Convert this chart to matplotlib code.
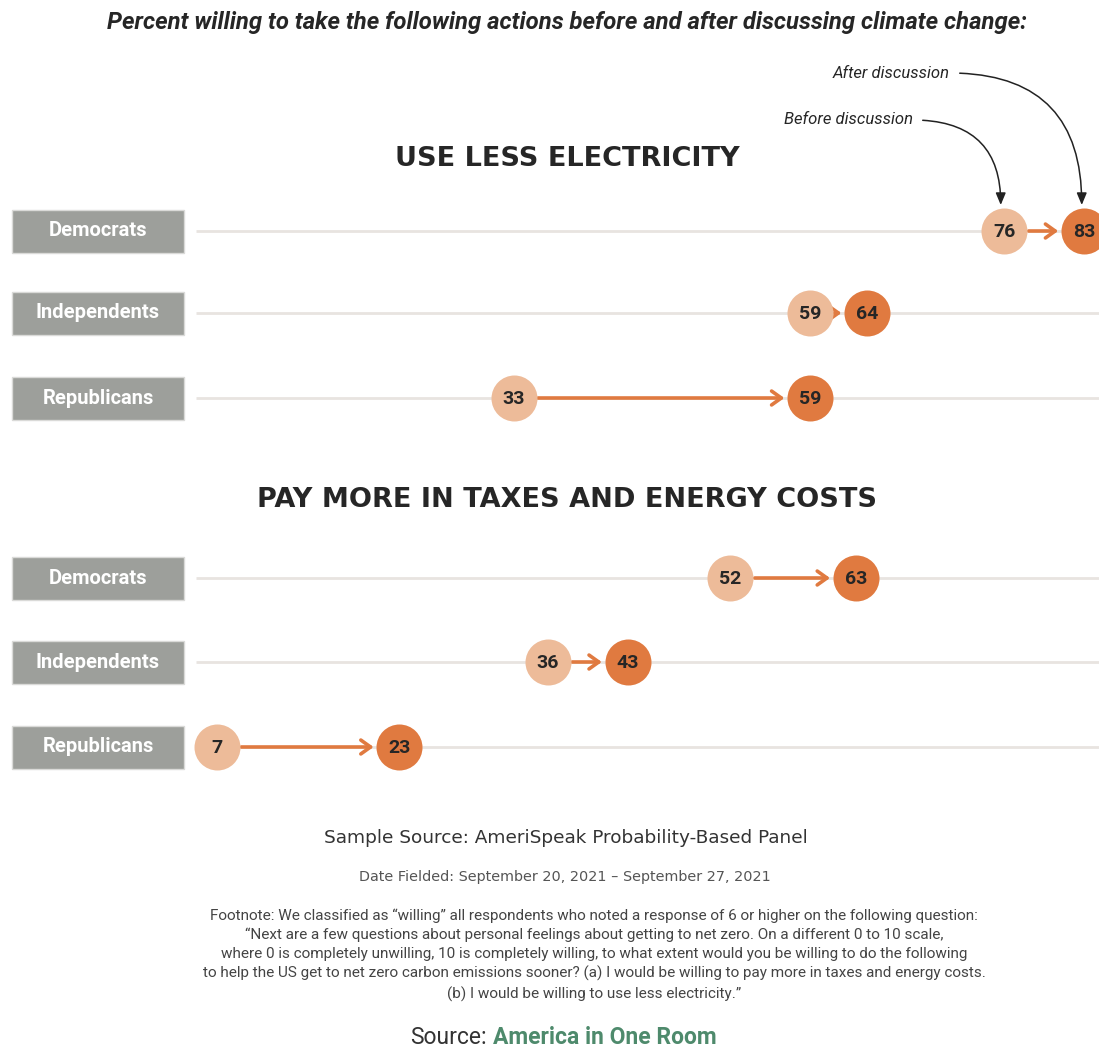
import numpy as np
import matplotlib.pyplot as plt
from matplotlib.patches import Rectangle
from matplotlib.transforms import blended_transform_factory

# datos
grupos = ["Democrats", "Independents", "Republicans"]
secciones = ["USE LESS ELECTRICITY", "PAY MORE IN TAXES AND ENERGY COSTS"]
antes_elec = [76, 59, 33]
despues_elec = [83, 64, 59]
antes_tax = [52, 36, 7]
despues_tax = [63, 43, 23]

titulo = "Percent willing to take the following actions before and after discussing climate change:"
fuente_muestra = "Sample Source: AmeriSpeak Probability-Based Panel"
fecha = "Date Fielded: September 20, 2021 \u2013 September 27, 2021"
nota = ("Footnote: We classified as \u201cwilling\u201d all respondents who noted a response of 6 or higher on the following question:\n"
        "\u201cNext are a few questions about personal feelings about getting to net zero. On a different 0 to 10 scale,\n"
        "where 0 is completely unwilling, 10 is completely willing, to what extent would you be willing to do the following\n"
        "to help the US get to net zero carbon emissions sooner? (a) I would be willing to pay more in taxes and energy costs.\n"
        "(b) I would be willing to use less electricity.\u201d")

c_antes = "#EDBB99"
c_despues = "#E07A40"
c_caja = "#9D9F9B"
c_linea = "#E8E4E0"
c_texto = "#262626"

plt.rcParams['font.family'] = ['Roboto', 'DejaVu Sans']

W, H = 1099, 1051
fig = plt.figure(figsize=(W / 100, H / 100), dpi=100)
ax = fig.add_axes([0, 0, 1, 1])
# escala: 0% en x=137 px, 11.41 px por punto
ax.set_xlim(-137 / 11.41, (W - 137) / 11.41)
ax.set_ylim(H, 0)
ax.axis('off')
trans_box = blended_transform_factory(ax.transAxes, ax.transData)

filas = [[231, 313, 398], [578, 662, 747]]
y_secc = [159, 500]
datos = [(antes_elec, despues_elec), (antes_tax, despues_tax)]

r_pt = 23 * 0.72
for k, (antes, despues) in enumerate(datos):
    ax.text(567 / W, y_secc[k], secciones[k], transform=trans_box, ha='center', va='center',
            fontsize=19.5, fontweight='bold', color=c_texto, family='DejaVu Sans')
    for i, g in enumerate(grupos):
        y = filas[k][i]
        ax.hlines(y, 5.2, 85, color=c_linea, lw=2, zorder=1)
        ax.add_patch(Rectangle((12 / W, y - 21.5), 172 / W, 43, transform=trans_box,
                               facecolor=c_caja, edgecolor='#DADAD8', lw=1, zorder=2))
        ax.text(98 / W, y, g, transform=trans_box, ha='center', va='center',
                fontsize=14.5, fontweight='bold', color='white', zorder=3)
        ax.annotate('', xy=(despues[i], y), xytext=(antes[i], y),
                    arrowprops=dict(arrowstyle='->,head_length=0.7,head_width=0.5', color=c_despues,
                                    lw=2.6, shrinkA=r_pt + 1, shrinkB=r_pt + 2), zorder=3)
        ax.scatter([antes[i]], [y], s=(2 * r_pt) ** 2, color=c_antes, zorder=4, linewidths=0)
        ax.scatter([despues[i]], [y], s=(2 * r_pt) ** 2, color=c_despues, zorder=4, linewidths=0)
        ax.text(antes[i], y + 1, str(antes[i]), ha='center', va='center', fontsize=14,
                fontweight='bold', color=c_texto, zorder=5)
        ax.text(despues[i], y + 1, str(despues[i]), ha='center', va='center', fontsize=14,
                fontweight='bold', color=c_texto, zorder=5)

# anotaciones antes / despues
flecha = dict(arrowstyle='-|>,head_length=0.6,head_width=0.25', color='#222222', lw=1.1,
              connectionstyle='angle3,angleA=0,angleB=90', relpos=(1, 0.5), shrinkA=5, shrinkB=0)
ax.annotate("After discussion", xy=(despues_elec[0] - 0.2, filas[0][0] - 26), xytext=(950 / W, 73),
            textcoords=trans_box, ha='right', va='center', fontsize=12, style='italic',
            color=c_texto, arrowprops=flecha)
ax.annotate("Before discussion", xy=(antes_elec[0] - 0.3, filas[0][0] - 26), xytext=(913 / W, 120),
            textcoords=trans_box, ha='right', va='center', fontsize=12, style='italic',
            color=c_texto, arrowprops=flecha)

# titulo y notas
fig.text(567 / W, 1 - 22 / H, titulo, ha='center', va='center', fontsize=17.2,
         fontweight='bold', style='italic', color=c_texto)
fig.text(566 / W, 1 - 838 / H, fuente_muestra, ha='center', va='center', fontsize=13.3,
         fontweight='medium', color='#333333', family='DejaVu Sans')
fig.text(565 / W, 1 - 877 / H, fecha, ha='center', va='center', fontsize=10.4,
         color='#555555', family='DejaVu Sans')
fig.text(594 / W, 1 - 955 / H, nota, ha='center', va='center', fontsize=11,
         color='#444444', linespacing=1.42)
fig.text(487 / W, 1 - 1038 / H, "Source:", ha='right', va='center', fontsize=16.5, color='#333333')
fig.text(493 / W, 1 - 1038 / H, "America in One Room", ha='left', va='center', fontsize=16.5,
         fontweight='bold', color='#4E8A6C')

fig.savefig('out.png', dpi=100, facecolor='white')
